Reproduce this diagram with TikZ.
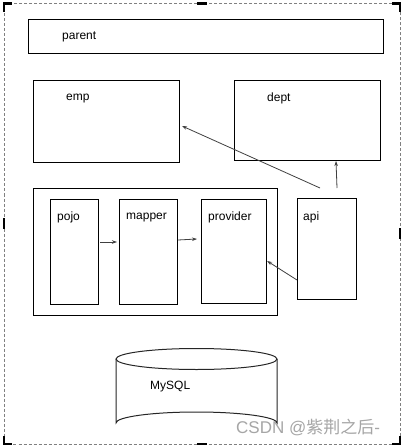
\documentclass[tikz,border=0pt]{standalone}
\usepackage{fontspec}
\setmainfont{Liberation Sans}
\newfontfamily\cjkfont{Noto Sans CJK SC}
\usetikzlibrary{arrows.meta}
\begin{document}
\begin{tikzpicture}[x=1pt,y=-1pt,
  box/.style={draw=black,line width=1.1pt},
  lbl/.style={anchor=west,inner sep=0pt,font=\fontsize{12}{14}\selectfont},
  arr/.style={draw=black!75,line width=0.8pt,-{Stealth[length=5pt,width=3.5pt]}},
  handle/.style={line width=2.2pt,black}]
\useasboundingbox (0,0) rectangle (403,446);
\fill[white] (0,0) rectangle (403,446);
% selection frame
\draw[gray,dashed,line width=0.6pt,dash pattern=on 3pt off 2pt] (4,3.5) rectangle (400,444);
\draw[handle] (4,12) -- (4,3.5) -- (12,3.5);
\draw[handle] (392,3.5) -- (400,3.5) -- (400,12);
\draw[handle] (4,436) -- (4,444) -- (12,444);
\draw[handle] (392,444) -- (400,444) -- (400,436);
\draw[handle] (197,3.5) -- (207,3.5);
\draw[handle] (197,444) -- (207,444);
\draw[handle] (4,218) -- (4,229);
\draw[handle] (400,228) -- (400,239);
% boxes
\node[box,minimum width=355pt,minimum height=34pt,anchor=north west,inner sep=0pt] (parent) at (28,19) {};
\node[lbl] at (62,37) {parent};
\node[box,minimum width=146pt,minimum height=82pt,anchor=north west,inner sep=0pt] (emp) at (33,80) {};
\node[lbl] at (66,99) {emp};
\node[box,minimum width=146pt,minimum height=80pt,anchor=north west,inner sep=0pt] (dept) at (234,80) {};
\node[lbl] at (267,98) {dept};
\node[box,minimum width=244pt,minimum height=127pt,anchor=north west,inner sep=0pt] (group) at (33,188) {};
\node[box,minimum width=48pt,minimum height=105pt,anchor=north west,inner sep=0pt] (pojo) at (50,199) {};
\node[lbl] at (57,217) {pojo};
\node[box,minimum width=58pt,minimum height=105pt,anchor=north west,inner sep=0pt] (mapper) at (119,199) {};
\node[lbl] at (126,218) {mapper};
\node[box,minimum width=65pt,minimum height=104pt,anchor=north west,inner sep=0pt] (provider) at (201,199) {};
\node[lbl] at (208,217) {provider};
\node[box,minimum width=59pt,minimum height=101pt,anchor=north west,inner sep=0pt] (api) at (297,198) {};
\node[lbl] at (303,217) {api};
% arrows
\coordinate (a1) at (100,242);
\coordinate (a2) at (117,242);
\draw[arr] (a1) -- (a2);
\coordinate (b1) at (178,240);
\coordinate (b2) at (197,239);
\draw[arr] (b1) -- (b2);
\coordinate (c1) at (297,280);
\draw[arr] (c1) -- (provider.east |- 0,261);
\coordinate (d1) at (320,188);
\coordinate (d2) at (182,126);
\draw[arr] (d1) -- (d2);
\coordinate (e1) at (337,188);
\coordinate (e2) at (336,161);
\draw[arr] (e1) -- (e2);
% cylinder
\node[minimum width=161pt,minimum height=86pt,inner sep=0pt] (db) at (196.5,391) {};
\draw[black!85,line width=1pt] (116,359) -- (116,423) arc[start angle=180,end angle=360,x radius=80.5,y radius=11] -- (277,359);
\draw[black!85,line width=1pt,fill=white] (196.5,359) ellipse[x radius=80.5,y radius=10.5];
\node[lbl] at (150,387) {MySQL};
% watermark
\node[anchor=west,inner sep=0pt,text=black!35,font=\fontsize{17}{19}\selectfont] at (236,427) {CSDN @{\cjkfont 紫荆之后}-};
\end{tikzpicture}
\end{document}
